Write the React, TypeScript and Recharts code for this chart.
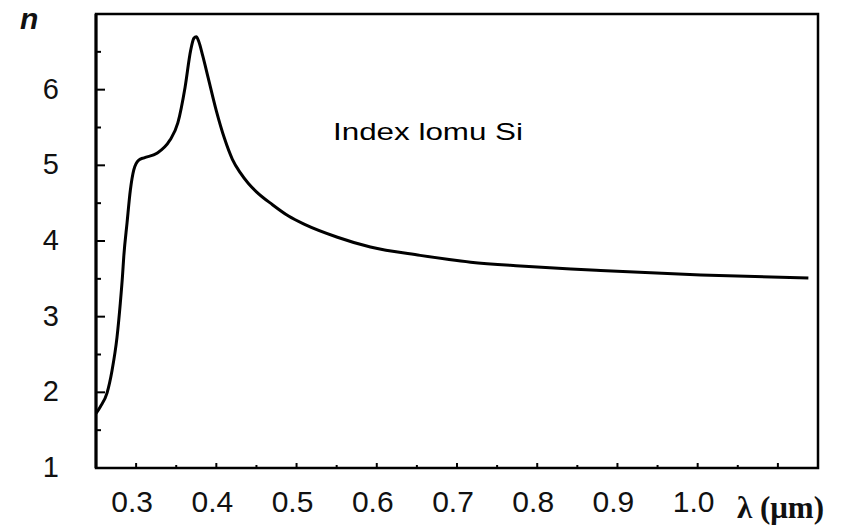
import React from "react";
import { LineChart, Line, XAxis, YAxis, ReferenceArea } from "recharts";

const lambdaValues = [
  0.25, 0.2554, 0.2637, 0.27, 0.2762, 0.2803, 0.2831, 0.2846, 0.2887, 0.2928,
  0.2971, 0.3033, 0.31, 0.326, 0.342, 0.352, 0.361, 0.368, 0.372, 0.375, 0.378,
  0.383, 0.39, 0.4, 0.41, 0.42, 0.43, 0.44, 0.45, 0.47, 0.49, 0.51, 0.551,
  0.592, 0.654, 0.717, 0.779, 0.842, 0.879, 1.004, 1.138,
];
const nValues = [
  1.72, 1.81, 1.99, 2.29, 2.73, 3.18, 3.55, 3.79, 4.24, 4.67, 4.94, 5.07, 5.1,
  5.16, 5.33, 5.56, 6.03, 6.52, 6.68, 6.7, 6.64, 6.45, 6.15, 5.72, 5.36, 5.08,
  4.9, 4.76, 4.65, 4.48, 4.33, 4.22, 4.05, 3.92, 3.81, 3.72, 3.67, 3.63, 3.61,
  3.55, 3.51,
];
const xTicks = [
  0.25, 0.3, 0.35, 0.4, 0.45, 0.5, 0.55, 0.6, 0.65, 0.7, 0.75, 0.8, 0.85, 0.9,
  0.95, 1.0, 1.05, 1.1, 1.15,
];
const xLabeled = [0.3, 0.4, 0.5, 0.6, 0.7, 0.8, 0.9, 1.0];
const yTicks = [1, 1.5, 2, 2.5, 3, 3.5, 4, 4.5, 5, 5.5, 6, 6.5, 7];
const yLabeled = [1, 2, 3, 4, 5, 6];

const data = lambdaValues.map((l, i) => ({ l, n: nValues[i] }));

const W = 836;
const H = 518;
const FONT = "'Liberation Sans', Arial, sans-serif";

const XTick = (props: any) => {
  const { x, y, payload } = props;
  const v: number = payload.value;
  const lab = xLabeled.some((t) => Math.abs(t - v) < 1e-6);
  const major = Math.abs(Math.round(v * 10) - v * 10) < 1e-6;
  const edge = Math.abs(v - 0.25) < 1e-6 || Math.abs(v - 1.15) < 1e-6;
  return (
    <g>
      {!edge && (
        <line x1={x} y1={y} x2={x} y2={y - (major ? 5 : 3)} stroke="#000" strokeWidth={2} />
      )}
      {lab && (
        <text x={x - 4} y={y + 33} textAnchor="middle" dominantBaseline="central" fontFamily={FONT} fontSize={30} fill="#111">
          {v.toFixed(1)}
        </text>
      )}
    </g>
  );
};

const YTick = (props: any) => {
  const { x, y, payload } = props;
  const v: number = payload.value;
  const lab = yLabeled.includes(v);
  const major = Number.isInteger(v);
  const edge = v === 1 || v === 7;
  return (
    <g>
      {!edge && (
        <line x1={x} y1={y} x2={x + (major ? 9 : 5)} y2={y} stroke="#000" strokeWidth={2} />
      )}
      {lab && (
        <text x={x - 37} y={y - 1} textAnchor="end" dominantBaseline="central" fontFamily={FONT} fontSize={29} fill="#111">
          {v}
        </text>
      )}
    </g>
  );
};

export default function App() {
  return (
    <div style={{ position: "relative", width: W, height: H, background: "#fff" }}>
      <LineChart width={W} height={H} data={data} margin={{ top: 6, right: 26, bottom: 0, left: 0 }}>
        <XAxis
          dataKey="l"
          type="number"
          domain={[0.25, 1.15]}
          ticks={xTicks}
          interval={0}
          allowDataOverflow
          height={58}
          tickSize={0}
          tickMargin={0}
          tickLine={false}
          axisLine={{ stroke: "#000", strokeWidth: 2 }}
          tick={<XTick />}
        />
        <YAxis
          type="number"
          domain={[1, 7]}
          ticks={yTicks}
          interval={0}
          allowDataOverflow
          width={88}
          tickSize={0}
          tickMargin={0}
          tickLine={false}
          axisLine={{ stroke: "#000", strokeWidth: 3 }}
          tick={<YTick />}
        />
        <ReferenceArea
          x1={0.25}
          x2={1.15}
          y1={1}
          y2={7}
          fill="none"
          fillOpacity={0}
          stroke="#000"
          strokeWidth={2.5}
          ifOverflow="visible"
        />
        <Line
          type="monotone"
          dataKey="n"
          stroke="#000"
          strokeWidth={3}
          dot={false}
          isAnimationActive={false}
        />
      </LineChart>
      <svg width={W} height={H} style={{ position: "absolute", left: 0, top: 0, pointerEvents: "none" }}>
        <text x={12} y={21} fontFamily={FONT} fontStyle="italic" fontWeight="bold" fontSize={30} fill="#111">
          n
        </text>
        <text x={325} y={132} fontFamily={FONT} fontSize={24} textLength={190} lengthAdjust="spacingAndGlyphs" fill="#000">
          Index lomu Si
        </text>
        <text x={729} y={510} fontFamily="'Liberation Serif', 'Times New Roman', serif" fontWeight="bold" fontSize={31} fill="#111">
          λ (μm)
        </text>
      </svg>
    </div>
  );
}
